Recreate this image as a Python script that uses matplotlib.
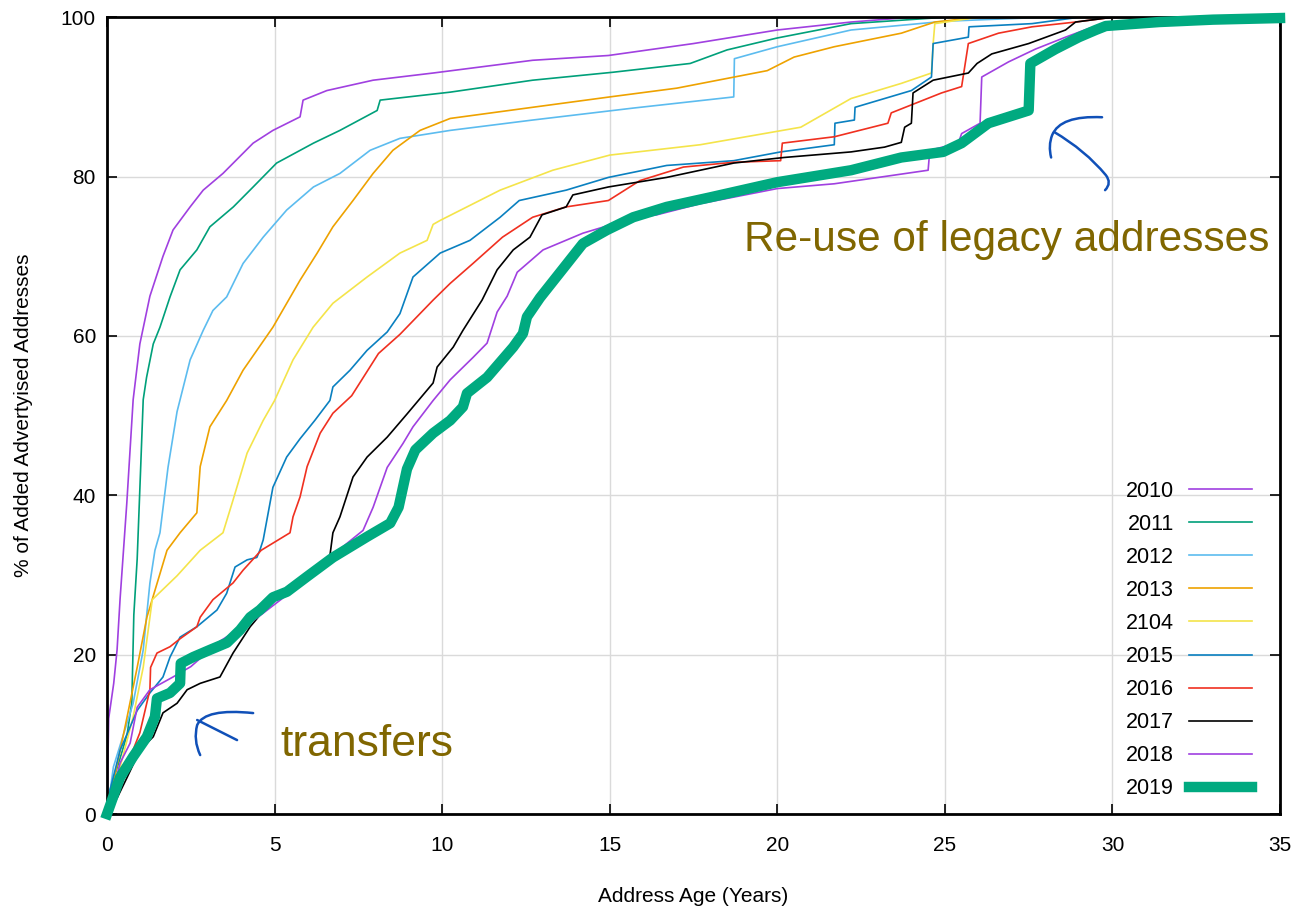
import matplotlib
matplotlib.use("Agg")
import matplotlib.pyplot as plt
from matplotlib.path import Path
from matplotlib.patches import PathPatch

plt.rcParams['font.family'] = ['Liberation Sans', 'DejaVu Sans']

# cumulative share of added advertised addresses by address age (years)
years = ['2010', '2011', '2012', '2013', '2104', '2015', '2016', '2017', '2018', '2019']

age_2010 = [0, 0.02, 0.05, 0.2, 0.3, 0.39, 0.59, 0.78, 0.98, 1.28, 1.67, 1.97, 2.48, 2.87, 3.46, 4.36,
            4.95, 5.76, 5.85, 6.56, 7.94, 9.73, 12.7, 14.96, 17.5, 20, 22.2, 24, 35]
pct_2010 = [0, 5, 12, 16.4, 20.6, 27, 39, 52, 59, 65, 70, 73.3, 76.2, 78.3, 80.4, 84.2,
            85.8, 87.5, 89.6, 90.8, 92.1, 93, 94.6, 95.2, 96.7, 98.4, 99.4, 100, 100]

age_2011 = [0, 0.09, 0.39, 0.6, 0.74, 0.8, 0.9, 1.0, 1.08, 1.18, 1.38, 1.58, 1.88, 2.18, 2.68, 3.07,
            3.77, 4.36, 5.06, 6.16, 6.95, 8.06, 8.15, 10.24, 12.7, 15.1, 17.4, 18.5, 20, 22.2, 25, 35]
pct_2011 = [0, 3, 7, 10, 14, 25, 32, 43, 52, 54.8, 59, 61.1, 64.9, 68.3, 70.8, 73.7,
            76.2, 78.7, 81.7, 84.2, 85.8, 88.3, 89.6, 90.6, 92.1, 93.1, 94.2, 95.9, 97.4, 99.2, 100, 100]

age_2012 = [0, 0.19, 0.78, 1.08, 1.28, 1.43, 1.58, 1.82, 2.09, 2.48, 2.87, 3.16, 3.57, 4.06, 4.66,
            5.36, 6.16, 6.95, 7.85, 8.74, 10.24, 12.7, 15.7, 18.7, 18.72, 20, 22.2, 25, 28, 35]
pct_2012 = [0, 5.9, 13.9, 20.6, 29, 33.1, 35.3, 43.5, 50.5, 57, 60.7, 63.2, 64.9, 69.1, 72.4,
            75.8, 78.7, 80.4, 83.3, 84.8, 85.8, 87.1, 88.6, 90, 94.8, 96.3, 98.4, 99.5, 100, 100]

age_2013 = [0, 0.19, 0.6, 0.9, 1.19, 1.79, 2.18, 2.68, 2.78, 3.07, 3.57, 4.06, 4.95, 5.76, 6.27,
            6.74, 7.34, 7.94, 8.53, 9.34, 10.24, 12.7, 15, 17, 19.7, 20.5, 21.7, 23.7, 24.7, 26, 35]
pct_2013 = [0, 3.9, 12.2, 18.4, 24.7, 33.1, 35.3, 37.8, 43.6, 48.6, 51.9, 55.7, 61.1, 67, 70.4,
            73.7, 77, 80.4, 83.3, 85.8, 87.3, 88.7, 90, 91.1, 93.3, 95, 96.3, 98, 99.4, 100, 100]

age_2104 = [0, 0.39, 0.78, 1.08, 1.35, 2.09, 2.78, 3.46, 3.76, 4.18, 4.66, 5.0, 5.55, 6.15, 6.74,
            7.76, 8.74, 9.55, 9.73, 9.94, 11.73, 13.3, 15, 17.7, 20.7, 22.2, 23.7, 24.6, 24.65,
            24.7, 26, 35]
pct_2104 = [0, 5.9, 12.2, 18.4, 26.9, 29.9, 33.1, 35.3, 39.4, 45.3, 49.4, 51.9, 57, 61.1, 64.1,
            67.4, 70.4, 72, 74, 74.5, 78.3, 80.8, 82.7, 84, 86.2, 89.8, 91.7, 93, 96.7,
            99.2, 100, 100]

age_2015 = [0, 0.09, 0.39, 0.9, 1.28, 1.67, 1.88, 2.18, 2.68, 3.28, 3.57, 3.82, 4.18, 4.47, 4.56,
            4.66, 4.95, 5.36, 5.76, 6.2, 6.65, 6.74, 7.25, 7.76, 8.36, 8.74, 9.13, 9.94, 10.83,
            11.73, 12.3, 13.7, 14.96, 16.7, 18.7, 20.1, 21.7, 21.72, 22.3, 22.32, 24, 24.6, 24.65,
            25.7, 25.72, 27.6, 29, 35]
pct_2015 = [0, 3, 8, 13, 15.2, 17.2, 19.7, 22.2, 23.5, 25.6, 27.7, 31, 31.9, 32.2, 33.1,
            34.4, 41, 44.8, 47.1, 49.4, 51.9, 53.6, 55.7, 58.2, 60.5, 62.8, 67.4, 70.4, 72,
            74.9, 77, 78.3, 79.9, 81.4, 82, 83.1, 84, 86.7, 87.1, 88.7, 90.8, 92.5, 96.7,
            97.5, 98.8, 99.2, 100, 100]

age_2016 = [0, 0.39, 0.98, 1.28, 1.3, 1.49, 1.88, 2.18, 2.68, 2.78, 3.16, 3.76, 4.06, 4.6, 5.46,
            5.55, 5.76, 5.97, 6.36, 6.74, 7.3, 8.1, 8.74, 9.73, 10.24, 10.92, 11.8, 12.7, 13.7,
            14.96, 15.9, 17.2, 18.7, 20.1, 20.15, 21.7, 23.3, 23.4, 24.9, 25.5, 25.7, 26.6, 27.6,
            28.9, 30, 35]
pct_2016 = [0, 3.9, 10.2, 15.6, 18.4, 20.2, 21, 22, 23.5, 24.7, 26.9, 29, 30.6, 33.1, 35.3,
            37.3, 39.8, 43.6, 47.8, 50.3, 52.5, 57.8, 60.2, 64.5, 66.6, 69.1, 72.4, 74.9, 76.2,
            77, 79.5, 81.2, 81.8, 82, 84.2, 85, 86.7, 88, 90.5, 91.3, 96.7, 98, 98.8,
            99.4, 100, 100]

age_2017 = [0, 0.3, 0.6, 0.98, 1.38, 1.67, 2.09, 2.39, 2.78, 3.37, 3.76, 4.27, 4.77, 5.07, 5.37,
            5.97, 6.65, 6.74, 6.95, 7.34, 7.76, 8.36, 8.95, 9.73, 9.85, 10.33, 10.62, 11.19,
            11.64, 12.12, 12.62, 12.98, 13.7, 13.9, 14.96, 16.7, 18.7, 20.2, 22.2, 23.2, 23.7,
            23.8, 24, 24.05, 24.65, 25.7, 25.96, 26.4, 27.5, 28.6, 28.9, 30, 35]
pct_2017 = [0, 2, 4.6, 8, 9.7, 12.7, 13.9, 15.6, 16.4, 17.2, 20.2, 23.5, 26, 27.2, 28.5,
            30.2, 32.4, 35.3, 37.3, 42.3, 44.8, 47.3, 50.2, 54.1, 56.1, 58.6, 60.7, 64.5,
            68.3, 70.8, 72.4, 75.2, 76.2, 77.7, 78.7, 79.9, 81.7, 82.4, 83.1, 83.7, 84.3,
            86.2, 86.7, 90.5, 92.1, 93, 94.2, 95.4, 96.7, 98.4, 99.4, 100, 100]

age_2018 = [0, 0.39, 0.69, 0.9, 1.28, 1.97, 2.5, 3.37, 4.47, 5.4, 6.7, 7.64, 7.94, 8.36, 8.83,
            9.13, 9.73, 10.24, 10.92, 11.34, 11.64, 11.94, 12.24, 13.01, 14.2, 15.7, 16.4, 17.7,
            20, 21.7, 24.5, 24.55, 25.4, 25.5, 26.05, 26.1, 26.9, 27.7, 28.6, 29.3, 30, 32, 35]
pct_2018 = [0, 6.4, 8.9, 13.4, 15.6, 17.2, 18.5, 21.7, 24.6, 27.6, 32.4, 35.6, 38.5, 43.5, 46.5,
            48.6, 51.9, 54.5, 57.3, 59.1, 63, 65, 68, 70.8, 72.9, 74.8, 75.2, 76.6,
            78.5, 79.1, 80.8, 83.3, 84.2, 85.4, 86.7, 92.5, 94.4, 96, 97.5, 98.6, 99.3, 99.7, 100]

age_2019 = [0, 0.39, 0.78, 1.19, 1.43, 1.49, 1.88, 2.18, 2.2, 2.57, 3.07, 3.58, 3.97, 4.27, 4.56,
            4.95, 5.37, 5.97, 6.74, 7.76, 8.45, 8.7, 8.95, 9.2, 9.73, 10.24, 10.62, 10.74, 11.34,
            12.12, 12.41, 12.53, 12.92, 13.73, 14.2, 14.92, 15.7, 16.7, 18, 20, 22.2, 23.7, 24.95,
            25.5, 26.3, 27.5, 27.55, 28.3, 29, 29.5, 29.8, 31.4, 33, 35]
pct_2019 = [0, 4.6, 7.2, 9.7, 12.2, 14.5, 15.2, 16.4, 18.9, 19.7, 20.6, 21.5, 23.1, 24.7, 25.6,
            27.2, 27.9, 29.8, 32.2, 34.8, 36.5, 38.5, 43.3, 45.7, 47.8, 49.4, 51.1, 52.8, 54.8,
            58.6, 60.3, 62.4, 64.8, 69.1, 71.6, 73.3, 74.9, 76.2, 77.4, 79.3, 80.8, 82.4, 83.1,
            84.2, 86.7, 88.3, 94.2, 96, 97.5, 98.4, 98.9, 99.4, 99.7, 99.9]

ages = [age_2010, age_2011, age_2012, age_2013, age_2104, age_2015, age_2016, age_2017, age_2018, age_2019]
pcts = [pct_2010, pct_2011, pct_2012, pct_2013, pct_2104, pct_2015, pct_2016, pct_2017, pct_2018, pct_2019]
colors = ['#a040e0', '#00a07a', '#5cbcef', '#eea200', '#f4e44a', '#0a80c0', '#f03020', '#000000',
          '#a040e0', '#00aa80']

fig = plt.figure(figsize=(12.94, 9.08), dpi=100)
ax = fig.add_axes([0.0827, 0.1035, 0.9065, 0.8775])

for yr, x, y, c in zip(years, ages, pcts, colors):
    if yr == '2019':
        ax.plot(x, y, color=c, lw=7.5, label=yr, clip_on=False, zorder=3, solid_joinstyle='round')
    else:
        ax.plot(x, y, color=c, lw=1.2, label=yr, zorder=2)

ax.set_xlim(0, 35)
ax.set_ylim(0, 100)
ax.set_xticks(range(0, 36, 5))
ax.set_yticks(range(0, 101, 20))
ax.grid(True, color='#dadada', lw=1.0, zorder=0)
ax.set_axisbelow(True)
ax.tick_params(direction='in', length=7, width=1.2, top=True, right=True, labelsize=15)
ax.tick_params(axis='x', pad=16)
ax.tick_params(axis='y', pad=8)
for s in ax.spines.values():
    s.set_linewidth(2)
ax.set_xlabel('Address Age (Years)', fontsize=15, labelpad=23)
ax.set_ylabel('% of Added Advertyised Addresses', fontsize=15, labelpad=20)

ax.legend(loc='lower right', bbox_to_anchor=(0.985, 0.005), frameon=False, markerfirst=False,
          fontsize=15.5, handlelength=2.9, handletextpad=0.7, labelspacing=0.56, borderpad=0)

# hand-written notes
note_color = '#806600'
ax.text(26.83, 72, 'Re-use of legacy addresses', color=note_color, fontsize=30.5,
        ha='center', va='center')
ax.text(7.74, 8.7, 'transfers', color=note_color, fontsize=32, ha='center', va='center')

arrow_color = '#1050b8'
arrow_paths = [
    ([(4.36, 12.67), (2.92, 13.3), (2.69, 11.17), (2.57, 9.28), (2.78, 7.4)],
     [Path.MOVETO, Path.CURVE3, Path.CURVE3, Path.CURVE3, Path.CURVE3]),
    ([(2.69, 11.8), (3.88, 9.28)], [Path.MOVETO, Path.LINETO]),
    ([(29.69, 87.45), (28.44, 87.7), (28.2, 85.2), (28.08, 83.9), (28.17, 82.4)],
     [Path.MOVETO, Path.CURVE3, Path.CURVE3, Path.CURVE3, Path.CURVE3]),
    ([(28.26, 85.6), (29.19, 83.3), (29.8, 80.2), (29.99, 79.2), (29.78, 78.3)],
     [Path.MOVETO, Path.CURVE3, Path.CURVE3, Path.CURVE3, Path.CURVE3]),
]
for verts, codes in arrow_paths:
    ax.add_patch(PathPatch(Path(verts, codes), fill=False, edgecolor=arrow_color, lw=1.8,
                           capstyle='round', zorder=4))

fig.savefig('out.png', dpi=100)
